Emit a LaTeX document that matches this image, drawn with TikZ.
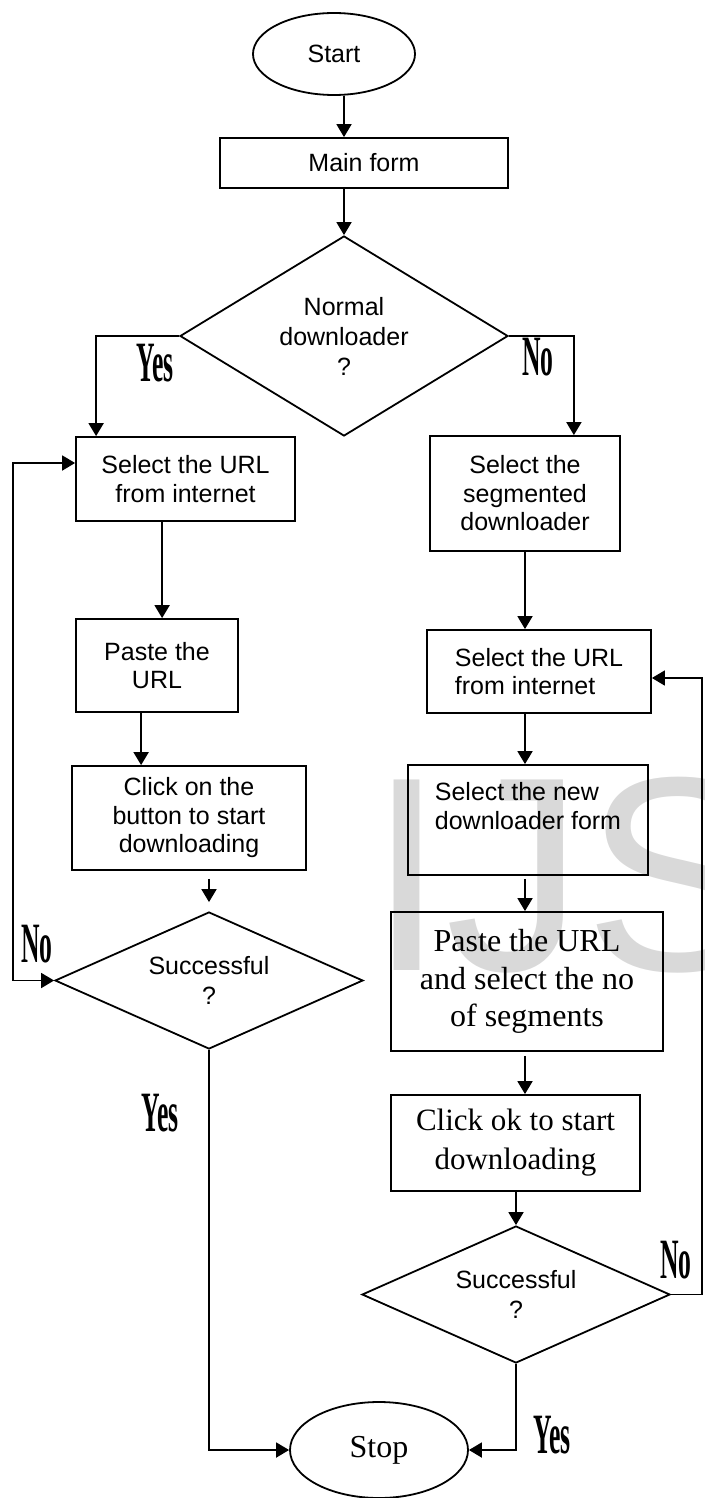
\documentclass[tikz,border=0pt]{standalone}
\usepackage{fontspec}
\setmainfont{Liberation Serif}
\setsansfont{Liberation Sans}
\newfontfamily\yesnofont{Liberation Serif}[FakeStretch=0.45]
\usetikzlibrary{arrows.meta,shapes.geometric,positioning,calc}

\begin{document}
\begin{tikzpicture}
[x=1pt, y=-1pt, line width=1.8pt, >={Triangle[length=13pt,width=15pt]},
every node/.style={inner sep=0pt},
proc/.style={draw, rectangle, align=center, font=\sffamily\fontsize{25}{28.5}\selectfont},
procl/.style={proc, align=left},
serifproc/.style={draw, rectangle, align=center, font=\rmfamily\fontsize{32}{37.5}\selectfont},
decision/.style={draw, diamond, align=center, font=\sffamily\fontsize{25}{30}\selectfont},
term/.style={draw, ellipse},
answer/.style={font=\yesnofont\bfseries\fontsize{57}{57}\selectfont}]
\path[use as bounding box] (0,0) rectangle (704,1498);
\begin{scope}
\clip (0,0) rectangle (704,1498);
\node[anchor=base west, text=black!15, font=\sffamily\fontsize{277}{277}\selectfont] (mark) at (368,970) {IJSER};
\end{scope}

\node[term, minimum width=162pt, minimum height=82pt, font=\sffamily\fontsize{25}{28}\selectfont] (start) at (334,54) {Start};
\node[proc, minimum width=288pt, minimum height=50pt] (main) at (364,163) {Main form};
\node[decision, aspect=1.64, minimum width=328pt, minimum height=200pt] (normal) at (344,336) {Normal\\downloader\\?};
\node[proc, minimum width=219pt, minimum height=84pt] (url) at (185.5,479) {Select the URL\\from internet};
\node[proc, minimum width=162pt, minimum height=93pt] (paste) at (157,665.5) {Paste the\\URL};
\node[proc, minimum width=234pt, minimum height=104pt] (click) at (189,818) {Click on the\\button to start\\downloading};
\node[decision, aspect=2.25, minimum width=308pt, minimum height=137pt] (ok) at (209,980.5) {Successful\\?};
\node[proc, minimum width=190pt, minimum height=115pt] (seg) at (525,493.5) {Select the\\segmented\\downloader};
\node[procl, minimum width=224pt, minimum height=83pt] (segurl) at (539,671.5) {Select the URL\\from internet};
\node[procl, minimum width=240pt, minimum height=110pt] (newform) at (528,820) {Select the new\\downloader form\\\mbox{}};
\node[serifproc, minimum width=272pt, minimum height=139pt] (segpaste) at (527,981.5) {Paste the URL\\and select the no\\of segments};
\node[serifproc, font=\rmfamily\fontsize{31}{39}\selectfont, minimum width=249pt, minimum height=96pt] (segclick) at (515.5,1143) {Click ok to start\\downloading};
\node[decision, aspect=2.25, minimum width=308pt, minimum height=137pt] (segok) at (516,1294.5) {Successful\\?};
\node[term, minimum width=178pt, minimum height=96pt, font=\rmfamily\fontsize{32}{36}\selectfont] (stop) at (379,1450) {Stop};
\coordinate (leftloop) at (13,980.5);
\coordinate (rightloop) at (702,1294.5);

\draw[->] (start.south -| normal.north) -- (main.north -| normal.north);
\draw[->] (main.south -| normal.north) -- (normal.north);
\draw[->] (normal.west) -| ($(url.north west)+(21,0)$);
\draw[->] (normal.east) -| ($(seg.north east)+(-47,0)$);
\draw[->] ($(url.south west)+(87,0)$) -- ($(paste.north west)+(87,0)$);
\draw[->] ($(paste.south west)+(66,0)$) -- ($(click.north west)+(70,0)$);
\draw[->, shorten <=8pt, shorten >=9pt] (click.south -| ok.north) -- (ok.north);
\draw[<->] (ok.west) -- (leftloop) |- ($(url.west)+(0,-16)$);
\draw[->] (ok.south) |- (stop.west);
\draw[->] (seg.south) -- (seg.south |- segurl.north);
\draw[->] (segurl.south -| seg.south) -- (newform.north -| seg.south);
\draw[->, shorten <=3pt] (newform.south -| seg.south) -- (segpaste.north -| seg.south);
\draw[->, shorten <=4pt] (segpaste.south -| seg.south) -- (segclick.north -| seg.south);
\draw[->] (segclick.south -| segok.north) -- (segok.north);
\draw[->] (segok.east) -- (rightloop) |- ($(segurl.east)+(0,6.5)$);
\draw[->] (segok.south) |- (stop.east);

\node[answer] (yes1) at (155,363) {Yes};
\node[answer] (no1) at (538,357) {No};
\node[answer] (no2) at (37,944) {No};
\node[answer] (yes2) at (160,1113) {Yes};
\node[answer] (no3) at (676,1260) {No};
\node[answer] (yes3) at (552,1435) {Yes};
\end{tikzpicture}
\end{document}
